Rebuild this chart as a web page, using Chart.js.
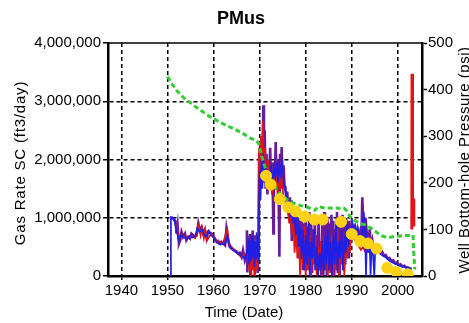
<!DOCTYPE html>
<html>
<head>
<meta charset="utf-8">
<title>PMus</title>
<script src="https://cdn.jsdelivr.net/npm/chart.js@4.4.1/dist/chart.umd.min.js"></script>
<style>
  html, body { margin: 0; padding: 0; background: #fff; }
  #wrap { width: 469px; height: 323px; }
</style>
</head>
<body>
<div id="wrap"><canvas id="chart" width="469" height="323"></canvas></div>
<script>
// axis ticks
const xTicks = [1940, 1950, 1960, 1970, 1980, 1990, 2000];
const rateTicks = [0, 1000, 2000, 3000, 4000];          // thousand ft3/day
const rateTickLabels = ['0', '1,000,000', '2,000,000', '3,000,000', '4,000,000'];
const pressTicks = [0, 100, 200, 300, 400, 500];
const pressTickLabels = ['0', '100', '200', '300', '400', '500'];

// gas rate, purple trace (thousand ft3/day)
const purpleYears = [
  1950.87, 1951.3, 1951.6, 1951.8, 1951.96, 1952.2, 1952.35, 1952.5, 1952.8, 1953.05,
  1953.4, 1953.8, 1954.1, 1954.5, 1954.9, 1955.2, 1955.6, 1955.9, 1956.3, 1956.7,
  1957.0, 1957.4, 1957.8, 1958.1, 1958.5, 1958.8, 1959.2, 1959.6, 1959.9, 1960.3,
  1960.7, 1961.0, 1961.4, 1961.7, 1962.1, 1962.5, 1962.8, 1963.2, 1963.5, 1963.9,
  1964.2, 1964.6, 1965.0, 1965.3, 1965.7, 1966.1, 1966.4, 1966.8, 1967.1, 1967.25,
  1967.35, 1967.5, 1967.7, 1967.9, 1968.0, 1968.15, 1968.3, 1968.5, 1968.6, 1968.8,
  1968.95, 1969.1, 1969.3, 1969.45, 1969.6, 1969.8, 1969.9, 1970.0, 1970.15, 1970.3,
  1970.5, 1970.65, 1970.8, 1970.95, 1971.1, 1971.3, 1971.5, 1971.7, 1971.9, 1972.1,
  1972.3, 1972.5, 1972.7, 1972.9, 1973.0, 1973.1, 1973.3, 1973.5, 1973.7, 1973.9,
  1974.1, 1974.3, 1974.45, 1974.6, 1974.8, 1975.0, 1975.2, 1975.4, 1975.6, 1975.8,
  1976.0, 1976.2, 1976.4, 1976.6, 1976.8, 1977.0, 1977.2, 1977.4, 1977.6, 1977.8,
  1978.0, 1978.2, 1978.4, 1978.6, 1978.8, 1979.0, 1979.2, 1979.4, 1979.6, 1979.8,
  1980.0, 1980.2, 1980.4, 1980.6, 1980.8, 1981.0, 1981.2, 1981.4, 1981.6, 1981.8,
  1982.0, 1982.2, 1982.4, 1982.6, 1982.8, 1983.0, 1983.2, 1983.4, 1983.6, 1983.8,
  1984.0, 1984.2, 1984.4, 1984.6, 1984.8, 1985.0, 1985.2, 1985.4, 1985.6, 1985.8,
  1986.0, 1986.2, 1986.4, 1986.6, 1986.8, 1987.0, 1987.2, 1987.4, 1987.6, 1987.8,
  1988.0, 1988.2, 1988.4, 1988.6, 1988.8, 1989.0, 1989.2, 1989.4, 1989.6, 1989.8,
  1990.0, 1990.3, 1990.6, 1990.9, 1991.2, 1991.5, 1991.8, 1992.1, 1992.3, 1992.5,
  1992.7, 1993.0, 1993.3, 1993.6, 1993.9, 1994.2, 1994.5, 1994.8, 1995.1, 1995.4,
  1995.8, 1996.2, 1996.6, 1997.0, 1997.4, 1997.8, 1998.2, 1998.6, 1999.0, 1999.4,
  1999.8, 2000.2, 2000.6, 2001.0, 2001.4, 2001.8, 2002.2, 2002.6, 2003.0
];
const purpleRate = [
  1014, 980, 957, 930, 728, 871, 700, 556, 620, 757,
  671, 728, 614, 671, 642, 728, 700, 671, 690, 900,
  785, 842, 728, 785, 642, 757, 740, 728, 700, 642,
  585, 600, 556, 585, 560, 528, 814, 614, 500, 471,
  460, 442, 420, 385, 400, 328, 442, 270, 350, 785,
  60, 650, 300, 720, 0, 640, 150, 780, 400, 700,
  0, 620, 200, 750, 50, 700, 2100, 1500, 2300, 1800,
  2400, 1600, 2930, 1900, 2500, 1500, 2100, 1400, 2000, 1700,
  2200, 1500, 1950, 1300, 730, 1900, 1600, 2300, 1500, 2000,
  1600, 330, 2100, 1700, 2215, 1500, 1900, 1550, 1530, 1300,
  1450, 1100, 1350, 900, 1250, 600, 1150, 800, 1200, 500,
  1100, 700, 1000, 300, 950, 600, 1050, 100, 900, 200,
  1000, 100, 850, 400, 1100, 200, 900, 50, 800, 300,
  1000, 100, 700, 0, 950, 200, 600, 0, 900, 300,
  1100, 100, 800, 0, 1000, 250, 900, 50, 1050, 200,
  950, 0, 800, 350, 1100, 100, 900, 0, 1000, 400,
  1050, 100, 900, 200, 1000, 500, 950, 300, 850, 600,
  900, 800, 850, 700, 800, 650, 750, 600, 1350, 900,
  600, 1000, 700, 500, 800, 450, 600, 450, 480, 430,
  460, 400, 420, 350, 360, 300, 310, 260, 270, 220,
  230, 190, 200, 165, 175, 145, 150, 125, 130
];

// gas rate, blue trace (thousand ft3/day)
const blueYears = [
  1950.72, 1950.75, 1951.0, 1951.5, 1952.0, 1952.5, 1953.0, 1953.5, 1954.0, 1954.5,
  1955.0, 1955.5, 1956.0, 1956.5, 1957.0, 1957.5, 1958.0, 1958.5, 1959.0, 1959.5,
  1960.0, 1960.5, 1961.0, 1961.5, 1962.0, 1962.5, 1963.0, 1963.5, 1964.0, 1964.5,
  1965.0, 1965.5, 1966.0, 1966.5, 1967.0, 1967.5, 1967.7, 1967.9, 1968.1, 1968.3,
  1968.5, 1968.7, 1968.9, 1969.1, 1969.3, 1969.5, 1969.7, 1969.85, 1970.0, 1970.2,
  1970.4, 1970.6, 1970.8, 1971.0, 1971.3, 1971.6, 1971.9, 1972.2, 1972.5, 1972.8,
  1973.1, 1973.4, 1973.7, 1974.0, 1974.3, 1974.6, 1974.9, 1975.2, 1975.5, 1975.8,
  1976.1, 1976.4, 1976.7, 1977.0, 1977.3, 1977.6, 1977.9, 1978.2, 1978.5, 1978.8,
  1979.1, 1979.4, 1979.7, 1980.0, 1980.3, 1980.6, 1980.9, 1981.2, 1981.5, 1981.8,
  1982.1, 1982.4, 1982.7, 1983.0, 1983.3, 1983.6, 1983.9, 1984.2, 1984.5, 1984.8,
  1985.1, 1985.4, 1985.7, 1986.0, 1986.3, 1986.6, 1986.9, 1987.2, 1987.5, 1987.8,
  1988.1, 1988.4, 1988.7, 1989.0, 1989.3, 1989.6, 1989.9, 1990.2, 1990.5, 1990.8,
  1991.1, 1991.4, 1991.7, 1992.0, 1992.3, 1992.6, 1992.9, 1993.1, 1993.3, 1993.6,
  1993.9, 1994.1, 1994.3, 1994.6, 1994.9, 1995.1, 1995.4, 1995.8, 1996.2, 1996.7,
  1997.2, 1997.7, 1998.2, 1998.7, 1999.2, 1999.7, 2000.2, 2000.7, 2001.2, 2001.7,
  2002.2, 2002.7, 2003.0
];
const blueRate = [
  0, 1010, 1000, 950, 780, 600, 700, 680, 640, 660,
  690, 660, 680, 820, 760, 800, 700, 680, 780, 700,
  660, 600, 560, 540, 560, 540, 680, 520, 460, 430,
  400, 380, 350, 320, 300, 550, 200, 600, 250, 700,
  300, 650, 150, 600, 300, 700, 250, 1000, 1800, 1300,
  2000, 1500, 2100, 1700, 1900, 1500, 1800, 1600, 1900, 1500,
  1850, 1700, 1950, 1600, 1900, 1750, 2000, 1650, 1500, 1400,
  1300, 1200, 1000, 1300, 900, 1100, 700, 1000, 500, 850,
  300, 800, 100, 700, 200, 900, 0, 600, 300, 800,
  100, 500, 0, 400, 100, 600, 0, 700, 200, 800,
  100, 600, 0, 700, 200, 900, 50, 600, 300, 800,
  100, 700, 400, 900, 500, 800, 700, 900, 750, 850,
  700, 800, 650, 700, 550, 1100, 800, 0, 700, 400,
  600, 0, 500, 400, 0, 450, 400, 420, 380, 350,
  330, 300, 260, 240, 220, 200, 180, 170, 160, 150,
  140, 130, 120
];

// gas rate, red trace (thousand ft3/day)
const redYears = [
  1951.9, 1952.1, 1952.3, 1952.6, 1953.2, 1954.0, 1955.0, 1956.0, 1956.8, 1957.2,
  1957.5, 1957.9, 1958.2, 1958.6, 1959.5, 1960.5, 1962.0, 1963.0, 1963.3, 1964.5,
  1966.0, 1967.5, 1967.8, 1968.0, 1968.2, 1968.4, 1968.6, 1968.8, 1969.0, 1969.2,
  1969.5, 1969.7, 1969.9, 1970.1, 1970.3, 1970.5, 1970.7, 1970.9, 1971.2, 1971.5,
  1971.8, 1972.1, 1972.4, 1972.7, 1973.0, 1973.3, 1973.6, 1973.9, 1974.2, 1974.5,
  1974.8, 1975.1, 1975.5, 1975.9, 1976.3, 1976.6, 1977.0, 1977.3, 1977.6, 1977.9,
  1978.2, 1978.5, 1978.8, 1979.1, 1979.4, 1979.7, 1980.0, 1980.3, 1980.6, 1980.9,
  1981.2, 1981.5, 1981.8, 1982.1, 1982.4, 1982.7, 1983.0, 1983.3, 1983.6, 1983.9,
  1984.2, 1984.5, 1984.8, 1985.1, 1985.4, 1985.7, 1986.0, 1986.3, 1986.6, 1986.9,
  1987.2, 1987.5, 1987.8, 1988.1, 1988.4, 1988.7, 1989.0, 1989.3, 1989.6, 1989.9,
  1990.3, 1990.8, 1991.3, 1992.0, 1992.5, 1993.0
];
const redRate = [
  750, 850, 650, 600, 700, 650, 700, 650, 880, 700,
  820, 650, 800, 620, 720, 620, 550, 800, 560, 440,
  330, 400, 100, 600, 0, 500, 100, 650, 0, 400,
  100, 600, 2200, 1700, 2400, 2000, 2650, 1800, 2200, 1600,
  2000, 1500, 1800, 1400, 1700, 1500, 1900, 1400, 1700, 1500,
  1800, 1400, 1300, 1200, 1000, 1200, 700, 1000, 400, 900,
  300, 800, 0, 700, 200, 850, 0, 600, 100, 700,
  0, 500, 200, 700, 0, 500, 100, 600, 0, 700,
  200, 600, 0, 500, 100, 700, 0, 600, 100, 800,
  0, 600, 200, 700, 0, 600, 300, 800, 400, 700,
  650, 600, 550, 450, 500, 400
];

// late rate spike (thousand ft3/day)
const spikeYears = [2003.05, 2003.1, 2003.2, 2003.35, 2003.45, 2003.5];
const spikeRate = [800, 3470, 900, 1330, 850, 1100];

// model rate, yellow markers (thousand ft3/day)
const modelYears = [1971.4, 1972.4, 1974.4, 1976.2, 1977.8, 1979.8, 1981.9, 1983.7,
  1987.7, 1990.0, 1991.8, 1993.5, 1995.4, 1997.7, 1999.7, 2002.2];
const modelRate = [1720, 1570, 1320, 1180, 1110, 1020, 970, 970,
  930, 720, 600, 560, 470, 140, 70, 30];

// well bottom-hole pressure (psi)
const pressYears = [
  1950.0, 1951.0, 1952.0, 1953.0, 1954.0, 1955.0, 1956.0, 1957.0, 1958.0, 1959.0,
  1960.0, 1961.0, 1962.0, 1963.0, 1964.0, 1965.0, 1966.0, 1967.0, 1968.0, 1969.0,
  1969.8, 1970.3, 1970.8, 1971.3, 1971.8, 1972.3, 1973.0, 1973.7, 1974.4, 1975.2,
  1976.0, 1977.0, 1978.0, 1979.0, 1980.0, 1981.0, 1982.0, 1982.8, 1983.6, 1984.5,
  1985.3, 1986.0, 1986.8, 1987.5, 1988.3, 1988.9, 1989.6, 1990.4, 1991.2, 1992.0,
  1992.8, 1993.5, 1994.3, 1995.0, 1995.8, 1996.6, 1997.5, 1998.3, 1999.0, 1999.8,
  2000.6, 2001.4, 2002.2, 2002.9, 2003.3, 2003.5, 2003.7
];
const pressPsi = [
  428, 412, 398, 388, 378, 372, 364, 357, 350, 343,
  338, 332, 327, 322, 318, 313, 308, 302, 296, 292,
  285, 265, 245, 230, 218, 208, 196, 186, 178, 170,
  164, 158, 154, 151, 149, 145, 141, 149, 147, 146,
  146, 145, 146, 145, 146, 140, 128, 121, 116, 112,
  110, 107, 102, 97, 91, 86, 83, 83, 84, 85,
  86, 87, 87, 88, 88, 45, 14
];

const FONT = '"Liberation Sans", Arial, sans-serif';

function toPoints(xs, ys) {
  return xs.map((x, i) => ({ x: x, y: ys[i] }));
}

// frame top line and the four titles
const chartText = {
  id: 'chartText',
  afterDraw(chart) {
    const ctx = chart.ctx;
    const a = chart.chartArea;
    ctx.save();
    ctx.strokeStyle = '#000';
    ctx.lineWidth = 1.5;
    ctx.beginPath();
    ctx.moveTo(a.left, a.top);
    ctx.lineTo(a.right, a.top);
    ctx.stroke();

    ctx.fillStyle = '#000';
    ctx.textAlign = 'center';
    ctx.textBaseline = 'middle';
    ctx.font = 'bold 18px ' + FONT;
    ctx.fillText('PMus', 241, 19);

    ctx.font = '15px ' + FONT;
    ctx.fillText('Time (Date)', 244, 313);

    ctx.save();
    ctx.translate(21, 163);
    ctx.rotate(-Math.PI / 2);
    ctx.letterSpacing = '0.8px';
    ctx.fillText('Gas Rate SC (ft3/day)', 0, 0);
    ctx.restore();

    ctx.save();
    ctx.translate(465, 160);
    ctx.rotate(-Math.PI / 2);
    ctx.letterSpacing = '0.5px';
    ctx.fillText('Well Bottom-hole Pressure (psi)', 0, 0);
    ctx.restore();
    ctx.restore();
  }
};

const gridDash = [4, 3];

const ctx = document.getElementById('chart').getContext('2d');
const chart = new Chart(ctx, {
  type: 'line',
  data: {
    datasets: [
      {
        label: 'Model rate',
        data: toPoints(modelYears, modelRate),
        yAxisID: 'y',
        showLine: false,
        pointRadius: 5.5,
        pointBackgroundColor: '#fcd116',
        pointBorderColor: '#fcd116',
        order: 0
      },
      {
        label: 'Pressure',
        data: toPoints(pressYears, pressPsi),
        yAxisID: 'y1',
        borderColor: '#33cc33',
        borderWidth: 3,
        borderDash: [5, 3],
        pointRadius: 0,
        order: 1
      },
      {
        label: 'Rate spike',
        data: toPoints(spikeYears, spikeRate),
        yAxisID: 'y',
        borderColor: '#e01515',
        borderWidth: 3,
        pointRadius: 0,
        order: 2
      },
      {
        label: 'Blue rate',
        data: toPoints(blueYears, blueRate),
        yAxisID: 'y',
        borderColor: '#1f1fe6',
        borderWidth: 1.7,
        pointRadius: 0,
        order: 3
      },
      {
        label: 'Red rate',
        data: toPoints(redYears, redRate),
        yAxisID: 'y',
        borderColor: '#e01515',
        borderWidth: 1.8,
        pointRadius: 0,
        order: 4
      },
      {
        label: 'Purple rate',
        data: toPoints(purpleYears, purpleRate),
        yAxisID: 'y',
        borderColor: '#6a1b9a',
        borderWidth: 2.6,
        pointRadius: 0,
        order: 5
      }
    ]
  },
  options: {
    responsive: false,
    animation: false,
    events: [],
    elements: { line: { tension: 0 } },
    layout: { padding: { top: 43, left: 0, right: 0, bottom: 0 } },
    plugins: {
      legend: { display: false },
      tooltip: { enabled: false },
      title: { display: false }
    },
    scales: {
      x: {
        type: 'linear',
        position: 'bottom',
        min: 1937.09,
        max: 2005.26,
        afterBuildTicks: (s) => { s.ticks = xTicks.map(v => ({ value: v })); },
        afterFit: (s) => { s.height = 47; },
        ticks: {
          color: '#000',
          font: { family: FONT, size: 15 },
          padding: 2,
          maxRotation: 0,
          autoSkip: false,
          callback: (v) => String(v)
        },
        grid: {
          color: '#000',
          lineWidth: 1.5,
          tickLength: 4,
          tickColor: '#000',
          tickWidth: 1.5,
          tickBorderDash: []
        },
        border: { display: true, color: '#000', width: 2.5, dash: gridDash }
      },
      y: {
        type: 'linear',
        position: 'left',
        min: 0,
        max: 4000,
        afterBuildTicks: (s) => { s.ticks = rateTicks.map(v => ({ value: v })); },
        afterFit: (s) => { s.width = 108; },
        ticks: {
          color: '#000',
          font: { family: FONT, size: 15 },
          padding: 2,
          callback: (v) => rateTickLabels[rateTicks.indexOf(v)]
        },
        grid: {
          color: (c) => (c.tick && (c.tick.value === 0 || c.tick.value === 4000)) ? 'rgba(0,0,0,0)' : '#000',
          lineWidth: 1.5,
          tickLength: 5,
          tickColor: '#000',
          tickWidth: 1.5,
          tickBorderDash: []
        },
        border: { display: true, color: '#000', width: 2.5, dash: gridDash }
      },
      y1: {
        type: 'linear',
        position: 'right',
        min: 0,
        max: 500,
        afterBuildTicks: (s) => { s.ticks = pressTicks.map(v => ({ value: v })); },
        afterFit: (s) => { s.width = 47; },
        ticks: {
          color: '#000',
          font: { family: FONT, size: 15 },
          padding: 1,
          callback: (v) => pressTickLabels[pressTicks.indexOf(v)]
        },
        grid: {
          drawOnChartArea: false,
          tickLength: 5,
          tickColor: '#000',
          tickWidth: 1.5
        },
        border: { display: true, color: '#000', width: 2.5 }
      }
    }
  },
  plugins: [chartText]
});
</script>
</body>
</html>
